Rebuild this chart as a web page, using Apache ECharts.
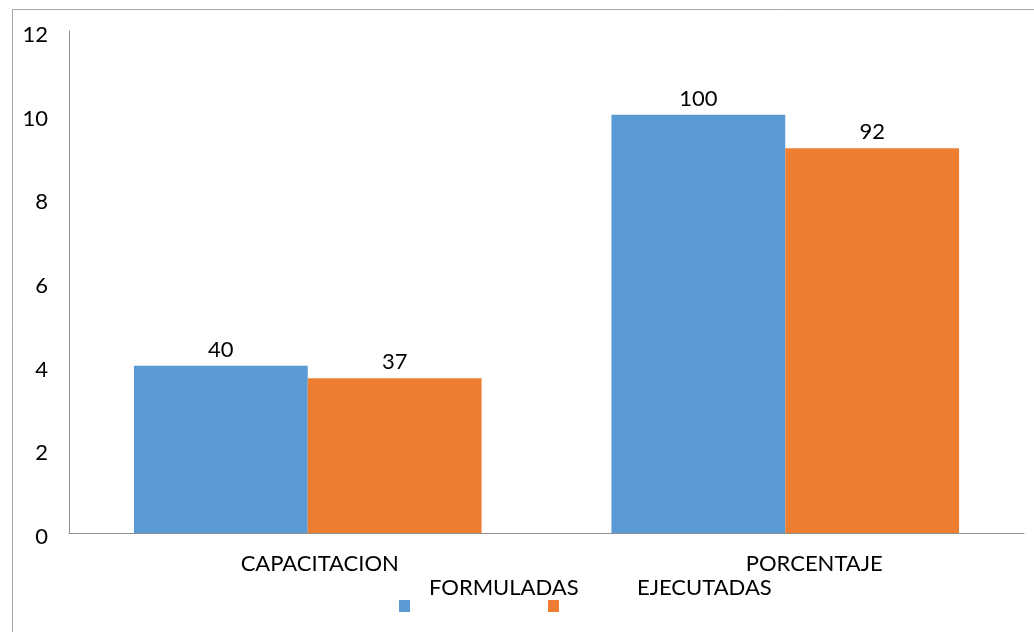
<!DOCTYPE html>
<html>
<head>
<meta charset="utf-8">
<script src="https://cdn.jsdelivr.net/npm/echarts@6/dist/echarts.min.js"></script>
<style>
  html, body { margin: 0; padding: 0; background: #ffffff; }
  #chart { width: 1034px; height: 632px; }
</style>
</head>
<body>
<div id="chart"></div>
<script>
// Chart data
const categories = ['CAPACITACION', 'PORCENTAJE'];
const seriesNames = ['FORMULADAS', 'EJECUTADAS'];
const formuladas = [40, 100];
const ejecutadas = [37, 92];
const yTickLabels = ['0', '2', '4', '6', '8', '10', '12'];

// Styling
const FONT = 'Lato';
const FONT_SIZE = 22;
const BLUE = '#5B9BD5';
const ORANGE = '#ED7D31';
const AXIS_GRAY = '#8f8f8f';
const Y_STEP = 20;
const Y_MAX = Y_STEP * (yTickLabels.length - 1);
const catLabelShift = [24, 58];

const chart = echarts.init(document.getElementById('chart'), null, { renderer: 'canvas' });

const baseText = { fontFamily: FONT, fontSize: FONT_SIZE, color: '#000' };

const catRich = {};
catLabelShift.forEach((s, i) => {
  catRich['c' + i] = Object.assign({}, baseText, { padding: [0, 0, 0, s] });
});

const valueLabel = Object.assign({ show: true, position: 'top', distance: 5 }, baseText);

// Legend entries: square marker with the name raised above and to the right of it
function legendFor(name, left, textLeftPad) {
  return {
    data: [name],
    left: left,
    top: 577,
    orient: 'horizontal',
    icon: 'rect',
    itemWidth: 11,
    itemHeight: 12,
    padding: 0,
    formatter: n => '{t|' + n + '}',
    textStyle: {
      fontFamily: FONT,
      fontSize: FONT_SIZE,
      color: '#000',
      rich: {
        t: Object.assign({}, baseText, { padding: [0, 0, 36, textLeftPad] })
      }
    }
  };
}

chart.setOption({
  animation: false,
  backgroundColor: '#ffffff',
  graphic: [{
    type: 'rect',
    left: 10,
    top: 7,
    shape: { width: 1060, height: 660 },
    style: { fill: 'none', stroke: '#a6a6a6', lineWidth: 1 },
    silent: true
  }],
  legend: [
    legendFor(seriesNames[0], 399, 14),
    legendFor(seriesNames[1], 548, 73)
  ],
  grid: { left: 69, right: 10, top: 31, bottom: 99, containLabel: false },
  xAxis: {
    type: 'category',
    data: categories,
    axisLine: { show: true, lineStyle: { color: AXIS_GRAY, width: 1 } },
    axisTick: { show: false },
    axisLabel: {
      margin: 20,
      fontFamily: FONT,
      fontSize: FONT_SIZE,
      color: '#000',
      interval: 0,
      formatter: (v, i) => '{c' + i + '|' + v + '}',
      rich: catRich
    },
    splitLine: { show: false }
  },
  yAxis: {
    type: 'value',
    min: 0,
    max: Y_MAX,
    interval: Y_STEP,
    axisLine: { show: true, lineStyle: { color: AXIS_GRAY, width: 1 } },
    axisTick: { show: false },
    splitLine: { show: false },
    axisLabel: {
      margin: 21,
      fontFamily: FONT,
      fontSize: FONT_SIZE,
      color: '#000',
      formatter: v => '{v|' + yTickLabels[Math.round(v / Y_STEP)] + '}',
      rich: {
        v: Object.assign({}, baseText, { padding: [8, 0, 0, 0] })
      }
    }
  },
  series: [
    {
      name: seriesNames[0],
      type: 'bar',
      data: formuladas,
      barWidth: '36.4%',
      barGap: '0%',
      itemStyle: { color: BLUE },
      label: valueLabel
    },
    {
      name: seriesNames[1],
      type: 'bar',
      data: ejecutadas,
      barWidth: '36.4%',
      barGap: '0%',
      itemStyle: { color: ORANGE },
      label: valueLabel
    }
  ]
});
</script>
</body>
</html>
